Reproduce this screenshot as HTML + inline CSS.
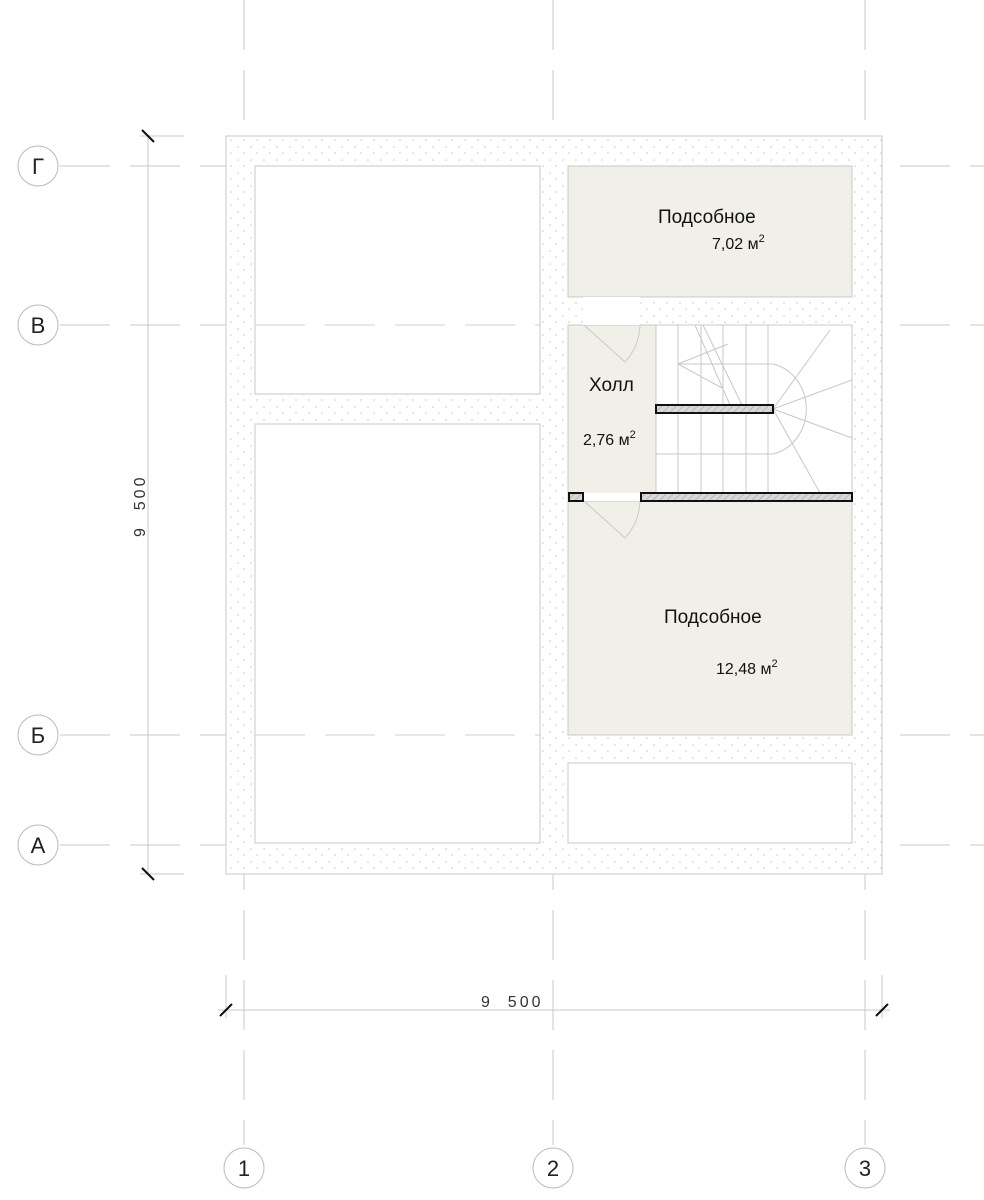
<!DOCTYPE html>
<html><head><meta charset="utf-8"><style>
html,body{margin:0;padding:0;background:#fff;}
svg{display:block;font-family:"Liberation Sans",sans-serif;}
</style></head><body>
<svg width="984" height="1200" viewBox="0 0 984 1200" xmlns="http://www.w3.org/2000/svg">
<defs>
<pattern id="dots" width="13" height="13" patternUnits="userSpaceOnUse">
<rect width="13" height="13" fill="#fff"/>
<circle cx="4" cy="4" r="0.8" fill="#c8c8c8"/>
<circle cx="10" cy="10" r="0.8" fill="#c8c8c8"/>
</pattern>
<pattern id="hatch" width="5" height="5" patternUnits="userSpaceOnUse" patternTransform="rotate(45)">
<rect width="5" height="5" fill="#d8d8d8"/>
<line x1="0" y1="0" x2="0" y2="5" stroke="#999" stroke-width="1"/>
</pattern>
</defs>
<g stroke="#c8c8c8" stroke-width="1" stroke-dasharray="50,20" fill="none">
<line x1="244" y1="0" x2="244" y2="1145"/>
<line x1="553" y1="0" x2="553" y2="1145"/>
<line x1="865" y1="0" x2="865" y2="1145"/>
<line x1="60" y1="166" x2="984" y2="166"/>
<line x1="60" y1="325" x2="984" y2="325"/>
<line x1="60" y1="735" x2="984" y2="735"/>
<line x1="60" y1="845" x2="984" y2="845"/>
</g>
<rect x="226" y="136" width="656" height="738" fill="url(#dots)" stroke="#c8c8c8"/>
<g stroke="#c8c8c8" stroke-width="1">
<rect x="255" y="166" width="285" height="228" fill="#fff"/>
<rect x="255" y="424" width="285" height="419" fill="#fff"/>
<rect x="568" y="166" width="284" height="131" fill="#f1f0e8"/>
<rect x="568" y="325" width="88" height="168" fill="#f1f0e8" stroke="none"/>
<rect x="656" y="325" width="196" height="168" fill="#fff" stroke="none"/>
<rect x="568" y="501" width="284" height="234" fill="#f1f0e8"/>
<rect x="568" y="763" width="284" height="80" fill="#fff"/>
<line x1="568" y1="325" x2="852" y2="325"/>
<line x1="852" y1="325" x2="852" y2="501"/>
<line x1="568" y1="325" x2="568" y2="501"/>
</g>
<g stroke="#d0d0d0" stroke-dasharray="50,20">
<line x1="255" y1="325" x2="540" y2="325"/>
<line x1="255" y1="735" x2="540" y2="735"/>
</g>
<rect x="583" y="297" width="57" height="28" fill="#fff"/>
<rect x="584" y="493" width="56" height="8" fill="#fff"/>
<g stroke="#c8c8c8" fill="none">
<path d="M584 325 L625 362 M640 325 A56 56 0 0 1 625 362"/>
<path d="M584 501 L625 538 M640 501 A56 56 0 0 1 625 538"/>
<line x1="656" y1="325" x2="656" y2="493"/>
<line x1="678" y1="325" x2="678" y2="493"/>
<line x1="701" y1="325" x2="701" y2="493"/>
<line x1="723" y1="325" x2="723" y2="493"/>
<line x1="746" y1="325" x2="746" y2="493"/>
<line x1="768" y1="325" x2="768" y2="493"/>
<path d="M678 364 L773 364 A42 46 0 0 1 773 454 L656 454"/>
<line x1="773" y1="409" x2="830" y2="330"/>
<line x1="773" y1="409" x2="852" y2="380"/>
<line x1="773" y1="409" x2="852" y2="438"/>
<line x1="773" y1="409" x2="820" y2="493"/>
<line x1="703" y1="325" x2="742" y2="405"/>
<line x1="695" y1="325" x2="730" y2="405"/>
<line x1="678" y1="364" x2="728" y2="344"/>
<line x1="678" y1="364" x2="722" y2="388"/>
</g>
<g stroke="#111" stroke-width="2" fill="url(#hatch)">
<rect x="656" y="405" width="117" height="8"/>
<rect x="641" y="493" width="211" height="8"/>
<rect x="569" y="493" width="14" height="8"/>
</g>
<g fill="#111" font-size="19">
<text x="658" y="223">Подсобное</text>
<text x="712" y="249" font-size="16">7,02 м<tspan font-size="11" dy="-7">2</tspan></text>
<text x="589" y="391">Холл</text>
<text x="583" y="445" font-size="16">2,76 м<tspan font-size="11" dy="-7">2</tspan></text>
<text x="664" y="623">Подсобное</text>
<text x="716" y="674" font-size="16">12,48 м<tspan font-size="11" dy="-7">2</tspan></text>
</g>
<g stroke="#bbb" fill="#fff">
<circle cx="38" cy="166" r="20"/><circle cx="38" cy="325" r="20"/>
<circle cx="38" cy="735" r="20"/><circle cx="38" cy="845" r="20"/>
<circle cx="244" cy="1168" r="20"/><circle cx="553" cy="1168" r="20"/><circle cx="865" cy="1168" r="20"/>
</g>
<g fill="#222" font-size="22" text-anchor="middle">
<text x="38" y="174">Г</text><text x="38" y="333">В</text>
<text x="38" y="743">Б</text><text x="38" y="853">А</text>
<text x="244" y="1176">1</text><text x="553" y="1176">2</text><text x="865" y="1176">3</text>
</g>
<g stroke="#c8c8c8">
<line x1="148" y1="136" x2="148" y2="874"/>
<line x1="140" y1="136" x2="184" y2="136"/>
<line x1="140" y1="874" x2="184" y2="874"/>
<line x1="218" y1="1010" x2="890" y2="1010"/>
<line x1="226" y1="975" x2="226" y2="1018"/>
<line x1="882" y1="975" x2="882" y2="1018"/>
</g>
<g stroke="#111" stroke-width="2">
<line x1="142" y1="130" x2="154" y2="142"/>
<line x1="142" y1="868" x2="154" y2="880"/>
<line x1="220" y1="1016" x2="232" y2="1004"/>
<line x1="876" y1="1016" x2="888" y2="1004"/>
</g>
<g fill="#333" font-size="16">
<text x="481" y="1007" xml:space="preserve" letter-spacing="3">9  500</text>
<text transform="translate(145,537) rotate(-90)" xml:space="preserve" letter-spacing="3">9  500</text>
</g>
</svg>
</body></html>
